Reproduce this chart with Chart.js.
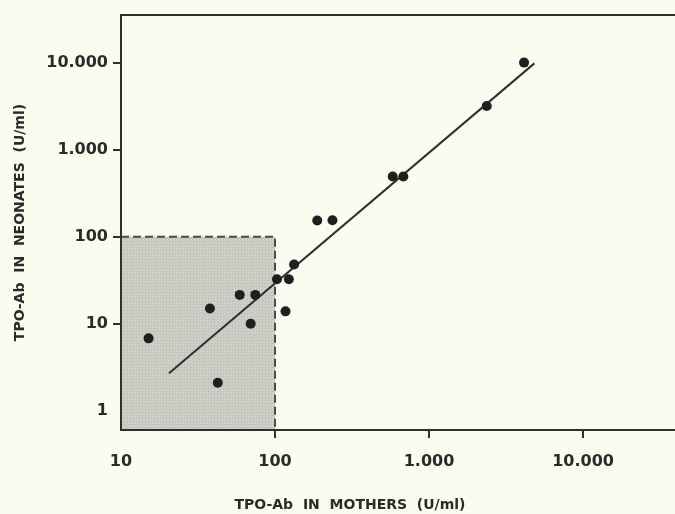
<!DOCTYPE html>
<html>
<head>
<meta charset="utf-8">
<script src="https://cdn.jsdelivr.net/npm/chart.js@4.4.0/dist/chart.umd.min.js"></script>
<style>
  html, body { margin: 0; padding: 0; background: #fcfbf0; }
  #wrap { width: 675px; height: 514px; position: relative; }
</style>
</head>
<body>
<div id="wrap"><canvas id="grafiks" width="675" height="514"></canvas></div>
<script>
// TPO-Ab values (U/ml)
const mammas = [15.1, 37.8, 42.5, 59, 69.5, 74.5, 103, 117, 123, 133, 188, 236, 581, 681, 2370, 4140];
const jaundzimusie = [6.8, 15, 2.1, 21.5, 10, 21.5, 32.5, 13.9, 32.5, 48, 154, 155, 494, 494, 3200, 10100];

// regression line end points
const liniX = [20.5, 4830];
const liniY = [2.7, 9900];

// normal range box (upper limit 100 U/ml on both axes)
const robezaX = [10, 100, 100];
const robezaY = [100, 100, 0.6];

const xTicks = [10, 100, 1000, 10000];
const xTickLabels = ['10', '100', '1.000', '10.000'];
const yTicks = [1, 10, 100, 1000, 10000];
const yTickLabels = ['1', '10', '100', '1.000', '10.000'];

const ASIS_KRASA = '#2f2f2f';
const fonts = { family: '"DejaVu Sans", sans-serif', weight: 'bold', size: 16 };

// gray dotted fill like the print raster
function raster() {
    const c = document.createElement('canvas');
    c.width = 3; c.height = 3;
    const g = c.getContext('2d');
    g.fillStyle = '#c6c6be';
    g.fillRect(0, 0, 3, 3);
    g.fillStyle = '#dcdcd4';
    g.fillRect(0, 0, 1, 1);
    g.fillRect(2, 2, 1, 1);
    return g.createPattern(c, 'repeat');
}

// frame: the right side runs off the picture, so only top, left and bottom
const ramis = {
    id: 'ramis',
    beforeDraw(chart) {
        const ctx = chart.ctx;
        ctx.save();
        ctx.fillStyle = '#fcfbf0';
        ctx.fillRect(0, 0, chart.width, chart.height);
        ctx.restore();
    },
    afterDraw(chart) {
        const a = chart.chartArea;
        const ctx = chart.ctx;
        ctx.save();
        ctx.strokeStyle = ASIS_KRASA;
        ctx.lineWidth = 2;
        ctx.beginPath();
        ctx.moveTo(chart.width, a.top);
        ctx.lineTo(a.left, a.top);
        ctx.lineTo(a.left, a.bottom);
        ctx.lineTo(chart.width, a.bottom);
        ctx.stroke();
        ctx.fillStyle = '#2a2a2a';
        ctx.font = 'bold 14px "DejaVu Sans", sans-serif';
        ctx.textAlign = 'center';
        ctx.textBaseline = 'middle';
        ctx.fillText('TPO-Ab  IN  MOTHERS  (U/ml)', 350, 505);
        ctx.restore();
    }
};

const punkti = mammas.map((v, i) => ({ x: v, y: jaundzimusie[i] }));

new Chart(document.getElementById('grafiks'), {
    type: 'scatter',
    data: {
        datasets: [
            {
                type: 'line',
                data: robezaX.map((v, i) => ({ x: v, y: robezaY[i] })),
                borderColor: '#4a4a4a',
                borderWidth: 2,
                borderDash: [8, 4],
                backgroundColor: raster(),
                fill: 'start',
                pointRadius: 0,
                tension: 0,
                order: 3
            },
            {
                type: 'line',
                data: liniX.map((v, i) => ({ x: v, y: liniY[i] })),
                borderColor: ASIS_KRASA,
                borderWidth: 2,
                pointRadius: 0,
                fill: false,
                order: 2
            },
            {
                data: punkti,
                backgroundColor: '#1f1f1f',
                borderWidth: 0,
                pointRadius: 5,
                order: 1
            }
        ]
    },
    options: {
        responsive: false,
        animation: false,
        layout: { padding: { top: 15, left: 12, right: 0, bottom: 0 } },
        plugins: { legend: { display: false }, tooltip: { enabled: false } },
        scales: {
            x: {
                type: 'logarithmic',
                min: 10,
                max: 36700,
                afterBuildTicks: s => { s.ticks = xTicks.map(v => ({ value: v })); },
                afterFit: s => { s.height = 84; },
                ticks: {
                    autoSkip: false,
                    maxRotation: 0,
                    padding: 14,
                    color: '#2a2a2a',
                    font: fonts,
                    callback: (v) => xTickLabels[xTicks.indexOf(v)]
                },
                grid: {
                    drawOnChartArea: false,
                    tickLength: 8,
                    lineWidth: 2,
                    color: c => c.tick && c.tick.value === 10 ? 'rgba(0,0,0,0)' : ASIS_KRASA
                },
                border: { display: false }
            },
            y: {
                type: 'logarithmic',
                min: 0.6,
                max: 35660,
                afterBuildTicks: s => { s.ticks = yTicks.map(v => ({ value: v })); },
                afterFit: s => { s.width = 109; },
                ticks: {
                    autoSkip: false,
                    padding: 5,
                    color: '#2a2a2a',
                    font: fonts,
                    callback: (v) => yTickLabels[yTicks.indexOf(v)]
                },
                grid: {
                    drawOnChartArea: false,
                    tickLength: 8,
                    lineWidth: 2,
                    color: c => c.tick && c.tick.value === 1 ? 'rgba(0,0,0,0)' : ASIS_KRASA
                },
                border: { display: false },
                title: {
                    display: true,
                    text: 'TPO-Ab  IN  NEONATES  (U/ml)',
                    color: '#2a2a2a',
                    font: { family: '"DejaVu Sans", sans-serif', weight: 'bold', size: 14 },
                    padding: { top: 0, bottom: 4 }
                }
            }
        }
    },
    plugins: [ramis]
});
</script>
</body>
</html>
